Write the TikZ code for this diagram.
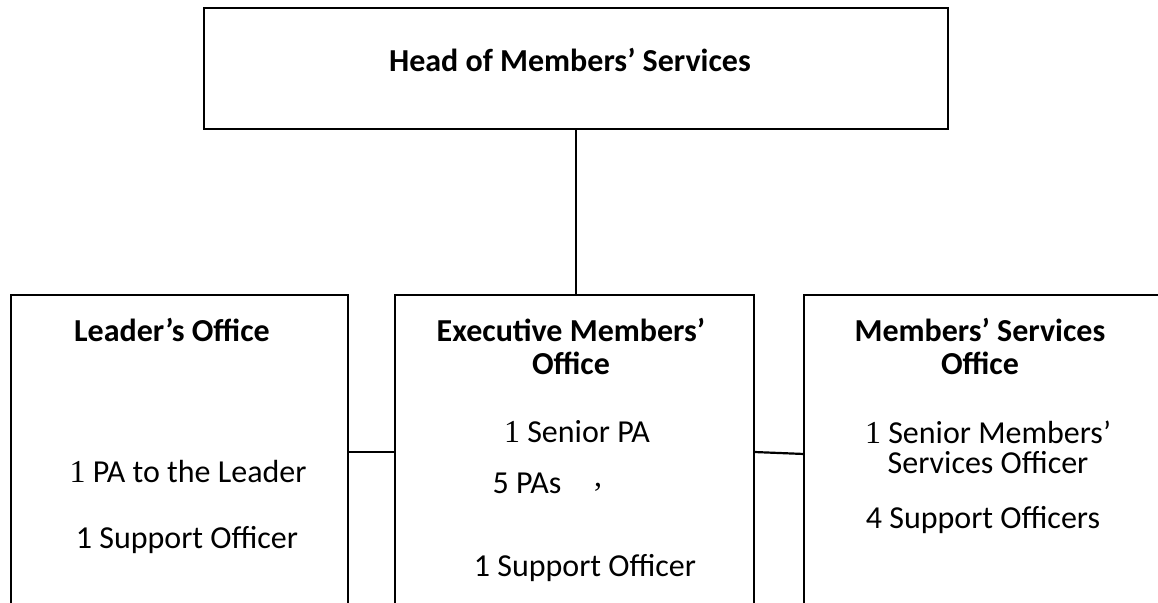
\documentclass[tikz,border=0pt]{standalone}
\usepackage{fontspec}
\setmainfont{Carlito}
\newfontfamily\numfont{Liberation Serif}
\usetikzlibrary{positioning}

\tikzset{
  unitbox/.style={draw, line width=1.1pt, inner sep=0pt, outer sep=0pt},
  headtxt/.style={font=\fontsize{16}{16.5}\selectfont\bfseries, align=center},
  bodytxt/.style={font=\fontsize{16}{15}\selectfont, align=center}
}

\begin{document}
\begin{tikzpicture}[x=0.5pt, y=-0.5pt]
    \useasboundingbox (0,0) rectangle (1158,603);
    \node[unitbox, minimum width=372pt, minimum height=60.5pt] (head) at (576,68.5) {};
    \node[headtxt] (headlbl) at (570,60) {Head of Members’ Services};

    \node[unitbox, minimum width=168.5pt, minimum height=157pt] (leader) at (179.5,452) {};
    \node[unitbox, minimum width=179.5pt, minimum height=157pt, right=23.5pt of leader] (exec) {};
    \node[unitbox, minimum width=200pt, minimum height=157pt, right=25pt of exec] (mso) {};

    % leader's office
    \node[headtxt] (leaderlbl) at (172,330) {Leader’s Office};
    \node[bodytxt] (leaderpa) at (188,472) {{\numfont 1} PA to the Leader};
    \node[bodytxt] (leadersup) at (187,540) {1 Support Officer};

    % executive members' office
    \node[headtxt] (execlbl) at (571,346) {Executive Members’\\Office};
    \node[bodytxt] (execspa) at (577,432) {{\numfont 1} Senior PA};
    \node[bodytxt] (execpa) at (527,483) {5 PAs};
    \node[bodytxt] (execcomma) at (598,487) {\numfont ,};
    \node[bodytxt] (execsup) at (585,568) {1 Support Officer};

    % members' services office
    \node[headtxt] (msolbl) at (980,346) {Members’ Services\\Office};
    \node[bodytxt] (msosmso) at (988,447) {{\numfont 1} Senior Members’\\Services Officer};
    \node[bodytxt] (msosup) at (983,520) {4 Support Officers};

    \draw[line width=1.1pt] (head.south) -- (head.south |- exec.north);
    \draw[line width=1.1pt] (leader) -- (exec);
    \draw[line width=1.1pt] (exec.east) -- ([yshift=-1pt]mso.west);
  \end{tikzpicture}
\end{document}
